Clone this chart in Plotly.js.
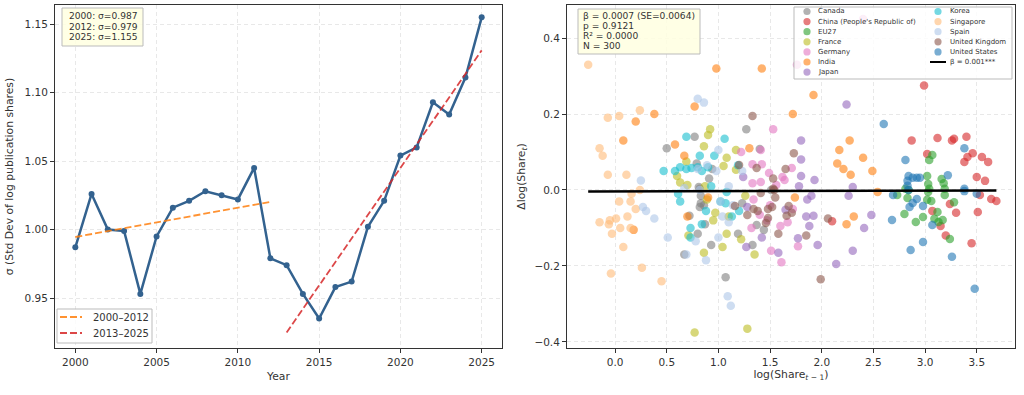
<!DOCTYPE html>
<html>
<head>
<meta charset="utf-8">
<script src="https://cdn.plot.ly/plotly-3.0.1.min.js"></script>
<style>html,body{margin:0;padding:0;background:#fff}#chart{width:1024px;height:395px}</style>
</head>
<body>
<div id="chart"></div>
<script>
// ---------------- DATA ----------------
const years = [2000,2001,2002,2003,2004,2005,2006,2007,2008,2009,2010,2011,2012,
               2013,2014,2015,2016,2017,2018,2019,2020,2021,2022,2023,2024,2025];
const sigma = [0.987,1.026,1.000,0.999,0.953,0.995,1.016,1.021,1.028,1.025,1.022,1.045,0.979,
               0.974,0.953,0.935,0.958,0.962,1.002,1.021,1.054,1.060,1.093,1.084,1.111,1.155];
const period1 = [2000, 2012];
const period2 = [2013, 2025];

const countries = ["Canada","China (People's Republic of)","EU27","France","Germany","India","Japan",
                   "Korea","Singapore","Spain","United Kingdom","United States"];
const countryColors = ["#7f7f7f","#d62728","#2ca02c","#bcbd22","#e377c2","#ff7f0e","#9467bd",
                       "#17becf","#ffbb78","#aec7e8","#8c564b","#1f77b4"];

const canadaX = [0.77,0.5,1.27,0.79,0.91,0.81,0.83,0.83,0.82,0.86,0.87,0.8,0.67,0.93,1.07,1.19,1.23,1.33,1.44,1.4,0.94,1.37,0.72,1.51,0.82];
const canadaY = [0.14,0.11,0.16,0.07,0.03,0.008,-0.015,-0.035,-0.045,-0.04,-0.09,-0.115,-0.17,-0.145,-0.23,-0.115,-0.035,-0.145,-0.105,0.108,0.055,-0.092,-0.068,0.0,0.003];
const chinaX = [2.99,2.87,3.12,3.26,3.28,3.02,3.46,3.41,3.55,3.38,3.61,3.5,3.53,3.64,3.69,3.24,3.3,3.51,3.07,3.2,3.45,2.1,3.15,3.58,3.4];
const chinaY = [0.275,0.13,0.137,0.13,0.135,0.095,0.097,0.087,0.087,0.074,0.074,0.034,-0.013,-0.024,-0.029,-0.037,-0.06,-0.058,-0.055,-0.12,-0.14,-0.082,-0.095,0.024,0.14];
const eu27X = [3.07,3.04,3.02,3.16,3.18,3.03,3.19,2.81,2.84,3.04,3.03,3.19,2.73,2.83,3.02,3.06,3.28,3.12,2.8,2.91,2.98,3.09,3.13,3.17,3.24];
const eu27Y = [0.092,0.079,0.037,0.029,0.018,0.016,0.003,0.003,0.0,0.003,-0.005,-0.013,-0.013,-0.021,-0.026,-0.029,-0.032,-0.058,-0.063,-0.084,-0.071,-0.076,-0.084,-0.079,-0.129];
const franceX = [0.92,0.9,0.86,1.17,1.08,0.69,1.05,1.17,0.6,0.63,0.87,0.7,0.89,0.95,1.08,1.04,0.86,0.71,1.22,1.35,0.77,1.28,0.97,1.1,1.26];
const franceY = [0.16,0.145,0.115,0.105,0.085,0.075,0.063,0.053,0.037,0.02,0.01,0.013,-0.025,-0.08,-0.115,-0.15,-0.165,-0.12,-0.13,-0.17,-0.375,-0.365,-0.06,-0.07,-0.015];
const germanyX = [1.22,1.41,1.53,1.33,1.42,1.49,1.33,1.41,1.56,1.62,1.64,1.71,1.34,1.32,1.51,1.61,1.6,1.67,1.47,1.4,1.77,2.4,1.76,1.5,1.72];
const germanyY = [0.1,0.105,0.16,0.068,0.068,0.045,0.018,0.021,0.013,0.034,0.026,0.058,-0.025,-0.1,-0.16,-0.19,-0.095,-0.085,-0.08,-0.065,-0.148,0.45,0.33,-0.04,-0.05];
const indiaX = [0.38,0.2,0.08,0.58,0.67,0.77,0.98,1.42,1.3,1.72,0.18,0.7,1.92,2.27,2.17,2.4,2.15,2.21,2.28,2.49,1.74,2.31,2.24,2.54,0.9];
const indiaY = [0.2,0.18,0.13,0.12,0.09,0.22,0.32,0.32,0.11,0.2,-0.105,-0.07,0.25,0.13,0.105,0.085,0.07,0.055,0.04,0.05,-0.02,-0.07,-0.09,-0.005,-0.02];
const japanX = [1.24,1.28,1.27,1.42,1.58,1.65,2.24,1.8,1.8,1.8,1.93,2.3,1.78,1.86,1.9,1.85,1.92,1.88,1.77,1.96,2.14,2.3,2.41,2.48,2.26];
const japanY = [0.034,-0.045,-0.15,-0.125,-0.165,-0.052,0.225,0.13,0.08,0.037,0.026,0.008,0.01,-0.025,-0.015,-0.07,-0.068,-0.095,-0.127,-0.145,-0.195,-0.16,-0.1,-0.066,-0.015];
const koreaX = [0.69,1.06,0.82,0.96,0.58,0.63,0.69,0.74,0.84,0.9,0.8,0.61,0.63,0.73,0.73,0.84,0.88,1.08,1.07,1.13,1.2,1.02,0.47,1.19,0.93];
const koreaY = [0.14,0.135,0.09,0.09,0.05,0.06,0.055,0.058,0.05,0.06,0.06,-0.01,-0.03,-0.1,-0.125,-0.09,-0.055,-0.005,-0.035,-0.07,-0.055,-0.03,0.05,0.065,0.01];
const singaporeX = [-0.26,-0.07,0.04,0.24,-0.15,-0.12,-0.07,0.11,0.24,0.16,0.04,0.15,-0.15,-0.06,-0.05,0.01,0.12,0.2,-0.03,0.05,0.15,0.08,-0.04,0.26,0.45];
const singaporeY = [0.33,0.19,0.195,0.21,0.11,0.09,0.04,0.04,0.0,-0.01,-0.03,-0.03,-0.085,-0.09,-0.08,-0.075,-0.07,-0.05,-0.115,-0.1,-0.1,-0.15,-0.22,-0.205,-0.24];
const spainX = [0.8,0.86,1.0,0.98,0.25,1.1,0.8,0.27,0.3,0.38,0.51,0.69,0.88,1.0,1.02,1.04,1.1,1.09,1.12,0.67,0.89,1.14,0.78,1.23,0.82];
const spainY = [0.24,0.23,0.105,0.05,0.025,0.01,0.055,-0.045,-0.055,-0.075,-0.125,-0.17,-0.185,-0.125,-0.03,-0.07,-0.085,-0.28,-0.305,0.005,0.065,-0.04,-0.135,0.05,0.0];
const ukX = [1.33,1.2,1.37,1.65,1.53,1.73,1.53,1.16,1.28,1.34,1.38,1.41,1.46,1.48,1.48,1.54,1.52,1.55,1.58,1.66,1.68,1.71,2.06,1.85,1.99];
const ukY = [0.195,0.066,0.058,0.055,0.03,0.097,0.003,-0.042,-0.066,-0.05,-0.055,-0.008,-0.087,-0.074,-0.05,0.0,-0.045,-0.02,-0.115,-0.068,-0.042,-0.06,-0.075,-0.12,-0.235];
const usX = [2.6,2.81,3.38,3.22,2.84,2.88,2.92,2.95,2.83,2.83,3.38,2.84,2.69,2.92,2.88,2.85,2.98,2.68,3.07,2.98,2.86,3.26,3.48,3.38,3.5];
const usY = [0.174,0.079,0.11,0.039,0.037,0.032,0.032,0.032,0.024,0.011,0.003,0.0,-0.013,-0.024,-0.034,-0.045,-0.042,-0.079,-0.092,-0.137,-0.158,-0.176,-0.26,-0.003,-0.01];

const countryX = [canadaX,chinaX,eu27X,franceX,germanyX,indiaX,japanX,koreaX,singaporeX,spainX,ukX,usX];
const countryY = [canadaY,chinaY,eu27Y,franceY,germanyY,indiaY,japanY,koreaY,singaporeY,spainY,ukY,usY];

const fitBeta = 0.0007, fitSE = 0.0064, fitP = 0.9121, fitR2 = 0.0000, fitAlpha = -0.004;
const fitLegendLabel = "β = 0.001***";

// ---------------- HELPERS ----------------
const W = 1024, H = 395, MT = 5, MB = 47;
const PH = H - MT - MB;
const X = px => px / W;
const Y = py => 1 - (py - MT) / PH;
const FONT = "DejaVu Sans";
const TXT = "#333";

function ols(xs, ys) {
  const n = xs.length;
  const mx = xs.reduce((a,b)=>a+b,0)/n, my = ys.reduce((a,b)=>a+b,0)/n;
  let sxy=0, sxx=0;
  for (let i=0;i<n;i++){ sxy+=(xs[i]-mx)*(ys[i]-my); sxx+=(xs[i]-mx)**2; }
  const b = sxy/sxx; return {a: my - b*mx, b};
}
function periodFit(p) {
  const xs=[], ys=[];
  years.forEach((yr,i)=>{ if(yr>=p[0] && yr<=p[1]){ xs.push(yr); ys.push(sigma[i]); } });
  const f = ols(xs, ys);
  return {x: [p[0], p[1]], y: [f.a + f.b*p[0], f.a + f.b*p[1]]};
}

// ---------------- TRACES ----------------
const traces = [];
traces.push({x: years, y: sigma, type:'scatter', mode:'lines+markers', xaxis:'x', yaxis:'y',
  line:{color:'#33628f', width:2.5}, marker:{color:'#33628f', size:6}, showlegend:false, hoverinfo:'x+y'});
const f1 = periodFit(period1), f2 = periodFit(period2);
traces.push({x: f1.x, y: f1.y, type:'scatter', mode:'lines', xaxis:'x', yaxis:'y',
  line:{color:'#ff7f0e', width:1.8, dash:'7px,3px'}, opacity:0.85, showlegend:false});
traces.push({x: f2.x, y: f2.y, type:'scatter', mode:'lines', xaxis:'x', yaxis:'y',
  line:{color:'#d62728', width:1.8, dash:'7px,3px'}, opacity:0.85, showlegend:false});

let allX = [];
countries.forEach((c,i)=>{
  allX = allX.concat(countryX[i]);
  traces.push({x: countryX[i], y: countryY[i], type:'scatter', mode:'markers', name:c,
    xaxis:'x2', yaxis:'y2', marker:{color:countryColors[i], size:8.5, opacity:0.6, line:{width:0}},
    showlegend:false});
});
const xmin = Math.min(...allX), xmax = Math.max(...allX);
traces.push({x:[xmin, xmax], y:[fitAlpha + fitBeta*xmin, fitAlpha + fitBeta*xmax], type:'scatter',
  mode:'lines', xaxis:'x2', yaxis:'y2', line:{color:'#000', width:2.5}, showlegend:false});
const N = allX.length;

// ---------------- ANNOTATIONS / LEGENDS ----------------
const annotations = [];
const shapes = [];
function textLine(px, py, text, size) {
  annotations.push({xref:'paper', yref:'paper', x:X(px), y:Y(py), xanchor:'left', yanchor:'middle',
    text, showarrow:false, font:{family:FONT, size, color:TXT}});
}
function box(x0, y0, x1, y1, fill) {
  shapes.push({type:'rect', xref:'paper', yref:'paper', x0:X(x0), x1:X(x1), y0:Y(y1), y1:Y(y0),
    fillcolor:fill, line:{color:'#bbb', width:1}, layer:'above'});
}

// stats box (left)
const i0 = years.indexOf(2000), i12 = years.indexOf(2012), i25 = years.indexOf(2025);
box(62, 8, 143, 46, 'rgba(255,255,224,0.85)');
[i0, i12, i25].forEach((k, j) => textLine(67, 15.5 + j*11, `${years[k]}: σ=${sigma[k].toFixed(3)}`, 9.1));

// stats box (right)
box(578, 9, 700, 54, 'rgba(255,255,224,0.85)');
[`β = ${fitBeta.toFixed(4)} (SE=${fitSE.toFixed(4)})`, `p = ${fitP.toFixed(4)}`,
 `R² = ${fitR2.toFixed(4)}`, `N = ${N}`].forEach((t, j) => textLine(581, 16 + j*10.1, t, 9.1));

// left legend
box(57, 309, 152, 343, 'rgba(255,255,255,0.8)');
[[period1,'#ff7f0e',317],[period2,'#d62728',333]].forEach(([p,col,py])=>{
  shapes.push({type:'line', xref:'paper', yref:'paper', x0:X(60), x1:X(82), y0:Y(py), y1:Y(py),
    line:{color:col, width:1.8, dash:'7px,3px'}, opacity:0.85, layer:'above'});
  textLine(91, py, `${p[0]}–${p[1]}`, 10);
});

// right legend
box(794, 7, 1012, 79, 'rgba(255,255,255,0.8)');
countries.forEach((c,i)=>{
  const col = i < 7 ? 0 : 1, row = i < 7 ? i : i - 7;
  const py = 11.5 + row*10.1;
  const mx = col===0 ? 807 : 938, tx = col===0 ? 816 : 948;
  shapes.push({type:'circle', xref:'paper', yref:'paper', xsizemode:'pixel', ysizemode:'pixel',
    xanchor:X(mx), yanchor:Y(py), x0:-3.6, x1:3.6, y0:-3.6, y1:3.6,
    fillcolor:countryColors[i], opacity:0.6, line:{width:0}, layer:'above'});
  textLine(tx, py, c, 7);
});
{
  const py = 11.5 + 5*10.1;
  shapes.push({type:'line', xref:'paper', yref:'paper', x0:X(930), x1:X(946), y0:Y(py), y1:Y(py),
    line:{color:'#000', width:2}, layer:'above'});
  textLine(948, py, fitLegendLabel, 7);
}

// ---------------- LAYOUT ----------------
const axisBase = {showline:true, mirror:true, linecolor:'#333', linewidth:1, ticks:'outside', ticklen:4,
  tickcolor:'#333', tickwidth:1, showgrid:true, gridcolor:'#e8e8e8', griddash:'4px,3px', gridwidth:1,
  zeroline:false, tickfont:{family:FONT, size:10.5, color:TXT}, automargin:false};

const layout = {
  width:W, height:H, margin:{l:0, r:0, t:MT, b:MB}, paper_bgcolor:'#fff', plot_bgcolor:'#fff',
  font:{family:FONT, color:TXT}, showlegend:false,
  xaxis: Object.assign({}, axisBase, {domain:[55/W, 502/W], range:[1998.75, 2026.25],
    tickvals: years.filter(y=>y%5===0), anchor:'y',
    title:{text:'Year', font:{family:FONT, size:10.8, color:TXT}, standoff:5}}),
  yaxis: Object.assign({}, axisBase, {domain:[0,1], range:[0.9135, 1.164], dtick:0.05, tick0:0.95,
    tickformat:'.2f', anchor:'x',
    title:{text:'σ (Std Dev of log publication shares)', font:{family:FONT, size:10.8, color:TXT}, standoff:8}}),
  xaxis2: Object.assign({}, axisBase, {domain:[567/W, 1015/W], range:[-0.465, 3.87], dtick:0.5, tick0:0,
    tickformat:'.1f', anchor:'y2',
    title:{text:'log(Share<sub><i>t</i> − 1</sub>)', font:{family:FONT, size:10.8, color:TXT}, standoff:3}}),
  yaxis2: Object.assign({}, axisBase, {domain:[0,1], range:[-0.416, 0.487], dtick:0.2, tick0:0,
    tickformat:'.1f', anchor:'x2',
    title:{text:'Δlog(Share<sub><i>t</i></sub>)', font:{family:FONT, size:10.8, color:TXT}, standoff:6}}),
  annotations, shapes
};

Plotly.newPlot('chart', traces, layout, {displayModeBar:false, staticPlot:true});
</script>
</body>
</html>
